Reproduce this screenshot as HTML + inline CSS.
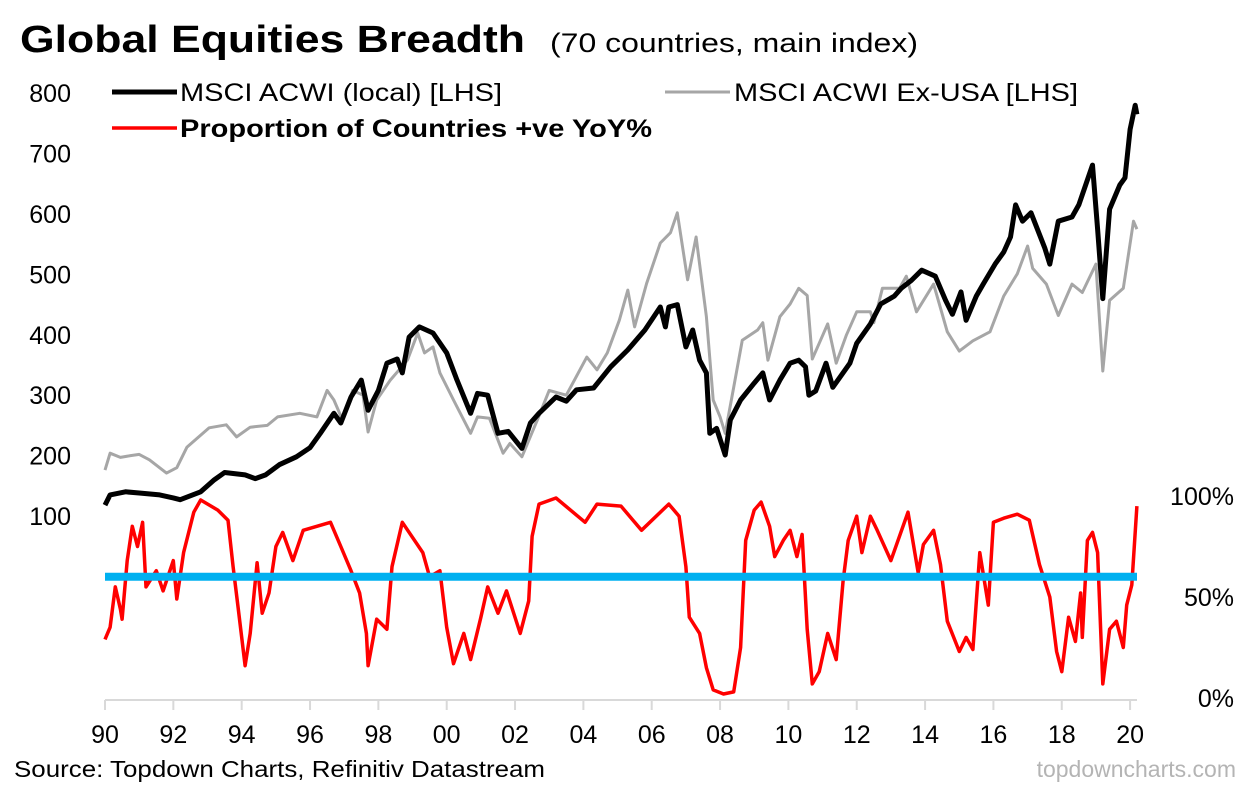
<!DOCTYPE html>
<html><head><meta charset="utf-8"><title>Global Equities Breadth</title>
<style>html,body{margin:0;padding:0;background:#fff;}svg{display:block;font-family:"Liberation Sans",Arial,sans-serif;}</style>
</head><body>
<svg id="chart" width="1248" height="793" viewBox="0 0 1248 793" xmlns="http://www.w3.org/2000/svg">
<text x="20" y="52" font-size="38" font-weight="bold" textLength="505" lengthAdjust="spacingAndGlyphs">Global Equities Breadth</text>
<text x="550" y="52" font-size="27" textLength="368" lengthAdjust="spacingAndGlyphs">(70 countries, main index)</text>
<g>
<line x1="112" y1="92" x2="177" y2="92" stroke="#000" stroke-width="5"/>
<text x="180" y="101" font-size="25" textLength="322" lengthAdjust="spacingAndGlyphs">MSCI ACWI (local) [LHS]</text>
<line x1="665" y1="92" x2="730" y2="92" stroke="#a6a6a6" stroke-width="3"/>
<text x="734" y="101" font-size="25" textLength="344" lengthAdjust="spacingAndGlyphs">MSCI ACWI Ex-USA [LHS]</text>
<line x1="112" y1="128" x2="177" y2="128" stroke="#f00" stroke-width="3.5"/>
<text x="180" y="137" font-size="25" font-weight="bold" textLength="472" lengthAdjust="spacingAndGlyphs">Proportion of Countries +ve YoY%</text>
</g>
<g id="axes"></g>
<g id="series"></g>
<text x="14" y="777" font-size="23" textLength="531" lengthAdjust="spacingAndGlyphs">Source: Topdown Charts, Refinitiv Datastream</text>
<text x="1236" y="777" font-size="23" fill="#b4b4b4" text-anchor="end">topdowncharts.com</text>
</svg>
<script>
// Data arrays (time in axis-years, values in index points / percent)
const acwiT=[1990.0,1990.15,1990.6,1991.0,1991.6,1992.0,1992.2,1992.8,1993.2,1993.5,1994.1,1994.4,1994.7,1995.1,1995.6,1996.0,1996.3,1996.7,1996.9,1997.2,1997.5,1997.7,1998.0,1998.25,1998.55,1998.7,1998.9,1999.2,1999.6,2000.0,2000.3,2000.7,2000.9,2001.2,2001.5,2001.8,2002.2,2002.45,2002.7,2003.2,2003.5,2003.8,2004.3,2004.8,2005.3,2005.8,2006.25,2006.4,2006.5,2006.75,2007.0,2007.2,2007.4,2007.6,2007.7,2007.9,2008.15,2008.3,2008.6,2009.0,2009.25,2009.45,2009.75,2010.05,2010.3,2010.5,2010.6,2010.8,2011.1,2011.3,2011.8,2012.0,2012.4,2012.7,2013.1,2013.3,2013.6,2013.9,2014.3,2014.6,2014.8,2015.05,2015.2,2015.5,2015.7,2016.05,2016.3,2016.5,2016.65,2016.85,2017.1,2017.5,2017.65,2017.9,2018.3,2018.5,2018.9,2019.05,2019.2,2019.4,2019.7,2019.85,2020.0,2020.15,2020.2];
const acwiV=[118,135,140,138,135,130,127,140,160,172,168,162,168,185,198,213,237,270,254,297,325,275,308,353,360,337,396,413,403,370,325,270,303,300,237,240,212,254,270,297,290,309,312,347,375,408,446,413,446,450,380,408,358,337,237,245,201,259,292,320,337,292,325,353,358,347,300,307,353,313,353,386,418,451,464,477,490,507,497,457,434,471,424,464,484,517,537,562,615,588,602,544,517,588,595,615,681,575,460,608,648,660,740,780,765];
const exusaT=[1990.0,1990.15,1990.45,1990.75,1991.0,1991.3,1991.8,1992.1,1992.4,1992.7,1993.05,1993.55,1993.85,1994.25,1994.75,1995.05,1995.7,1996.2,1996.5,1996.7,1996.95,1997.25,1997.55,1997.7,1997.95,1998.35,1998.85,1999.15,1999.35,1999.6,1999.8,2000.2,2000.7,2000.9,2001.25,2001.65,2001.85,2002.2,2002.65,2003.0,2003.5,2004.1,2004.4,2004.7,2005.05,2005.3,2005.5,2005.85,2006.25,2006.55,2006.75,2007.05,2007.3,2007.6,2007.8,2008.0,2008.15,2008.4,2008.65,2009.1,2009.25,2009.4,2009.75,2010.05,2010.3,2010.55,2010.7,2010.9,2011.15,2011.4,2011.7,2012.0,2012.4,2012.5,2012.75,2013.25,2013.45,2013.75,2014.25,2014.65,2015.0,2015.4,2015.9,2016.3,2016.7,2017.0,2017.15,2017.55,2017.9,2018.3,2018.6,2019.0,2019.2,2019.4,2019.8,2020.1,2020.2];
const exusaV=[176,204,197,200,202,193,171,180,214,229,246,251,231,247,250,264,270,264,308,292,259,308,300,239,292,325,358,403,370,380,337,292,237,264,262,204,220,198,259,308,300,363,342,370,424,474,413,485,552,569,602,491,562,430,292,264,237,313,391,408,420,358,430,451,477,465,360,386,418,353,400,438,438,420,477,477,497,438,484,405,373,390,405,464,501,547,510,484,432,484,470,517,340,457,477,588,575];
const breadthT=[1990.0,1990.15,1990.3,1990.45,1990.5,1990.65,1990.8,1990.95,1991.1,1991.2,1991.5,1991.7,1992.0,1992.1,1992.3,1992.6,1992.8,1993.3,1993.6,1993.75,1993.9,1994.1,1994.25,1994.45,1994.6,1994.8,1995.0,1995.2,1995.5,1995.8,1996.6,1996.9,1997.2,1997.45,1997.65,1997.7,1997.95,1998.25,1998.4,1998.7,1999.3,1999.5,1999.8,2000.0,2000.2,2000.5,2000.7,2001.0,2001.2,2001.5,2001.75,2002.15,2002.4,2002.5,2002.7,2003.2,2004.05,2004.4,2005.1,2005.7,2006.5,2006.8,2007.0,2007.1,2007.4,2007.6,2007.8,2008.1,2008.4,2008.6,2008.75,2009.0,2009.2,2009.45,2009.6,2009.85,2010.05,2010.25,2010.4,2010.55,2010.7,2010.9,2011.15,2011.4,2011.6,2011.75,2012.0,2012.15,2012.4,2012.6,2013.0,2013.5,2013.8,2013.95,2014.25,2014.45,2014.65,2015.0,2015.2,2015.4,2015.6,2015.85,2016.0,2016.3,2016.7,2017.05,2017.35,2017.65,2017.85,2018.0,2018.2,2018.4,2018.55,2018.6,2018.75,2018.9,2019.05,2019.2,2019.4,2019.6,2019.8,2019.9,2020.05,2020.2];
const breadthV=[29,35,55,44,39,68,85,75,87,55,63,53,68,49,72,92,98,93,88,65,44,16,32,67,42,52,75,82,68,83,87,75,63,52,32,16,39,34,65,87,72,60,63,35,17,32,19,40,55,42,53,32,48,80,96,99,87,96,95,83,96,90,65,40,32,15,4,2,3,25,78,93,97,85,70,78,83,70,81,34,7,13,32,19,58,78,90,72,90,83,68,92,62,76,83,66,38,23,30,24,72,46,87,89,91,88,66,50,23,13,40,28,52,30,78,82,72,7,34,38,25,46,56,95];
const leftTicks=[100,200,300,400,500,600,700,800];
const rightTicks=[0,50,100];
const rightTickLabels=["0%","50%","100%"];
const xTicks=[1990,1992,1994,1996,1998,2000,2002,2004,2006,2008,2010,2012,2014,2016,2018,2020];
const xTickLabels=["90","92","94","96","98","00","02","04","06","08","10","12","14","16","18","20"];
const threshold=60;

const NS="http://www.w3.org/2000/svg";
const X0=105,XPER=34.17,PL=105,PR=1137;
function xs(t){return X0+(t-1990)*XPER;}
function yl(v){return 516-(v-100)*0.604;}
function yr(p){return 698-p*2.02;}
function mk(tag,attrs,parent){const e=document.createElementNS(NS,tag);for(const k in attrs)e.setAttribute(k,attrs[k]);parent.appendChild(e);return e;}
const axes=document.getElementById('axes'),series=document.getElementById('series');

let ax=mk('line',{x1:PL,y1:700,x2:PR,y2:700,stroke:'#d9d9d9','stroke-width':2},axes);


xTicks.forEach((t,i)=>{
  const tk=mk('line',{x1:xs(t),y1:700,x2:xs(t),y2:710,stroke:'#d9d9d9','stroke-width':2},axes);
  
  
  const lb=mk('text',{x:xs(t),y:743,'font-size':25,'text-anchor':'middle'},axes);
  lb.textContent=xTickLabels[i];
  
  
});
leftTicks.forEach(v=>{
  const lb=mk('text',{x:71,y:yl(v)+9,'font-size':25,'text-anchor':'end'},axes);
  lb.textContent=String(v);
  
  
});
rightTicks.forEach((p,i)=>{
  const lb=mk('text',{x:1234,y:yr(p)+9,'font-size':25,'text-anchor':'end'},axes);
  lb.textContent=rightTickLabels[i];
  
  
});
function path(T,V,fy){return T.map((t,i)=>(i?'L':'M')+xs(t).toFixed(1)+','+fy(V[i]).toFixed(1)).join('');}
const g=mk('path',{d:path(exusaT,exusaV,yl),fill:'none',stroke:'#a6a6a6','stroke-width':3,'stroke-linejoin':'round'},series);


const b=mk('path',{d:path(acwiT,acwiV,yl),fill:'none',stroke:'#000','stroke-width':5,'stroke-linejoin':'round'},series);


const r=mk('path',{d:path(breadthT,breadthV,yr),fill:'none',stroke:'#f00','stroke-width':3.5,'stroke-linejoin':'round'},series);


const th=mk('line',{x1:PL,y1:yr(threshold),x2:PR,y2:yr(threshold),stroke:'#00b0f0','stroke-width':8},series);


</script>
</body></html>
